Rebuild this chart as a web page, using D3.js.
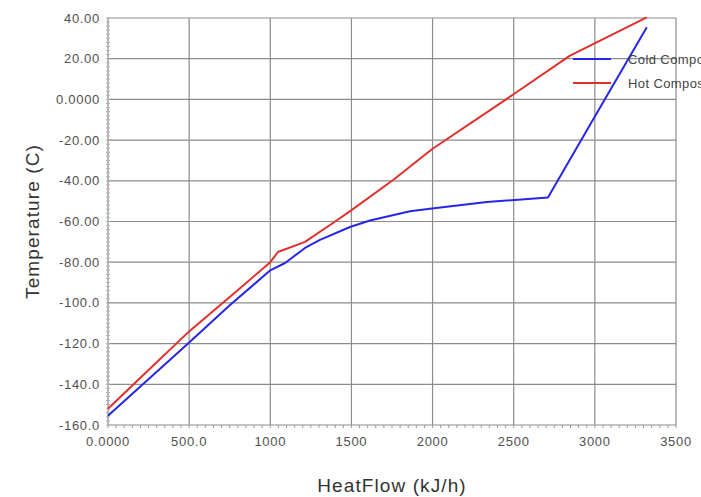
<!DOCTYPE html>
<html>
<head>
<meta charset="utf-8">
<script src="https://cdn.jsdelivr.net/npm/d3@7"></script>
<style>
  body { margin: 0; background: #fff; }
  svg { display: block; font-family: "Liberation Sans", Arial, sans-serif; }
</style>
</head>
<body>
<div id="chart"></div>
<script>
// composite curves (heat flow kJ/h, temperature C)
const coldFlow = [0, 500, 752, 1000, 1091, 1214, 1306, 1491, 1614, 1861, 1996, 2335, 2711, 3000, 3320];
const coldTemp = [-155.5, -119.5, -101, -84, -80.4, -73, -69, -62.7, -59.5, -55, -53.6, -50.4, -48.2, -8.4, 35.5];
const hotFlow = [0, 250, 500, 752, 1000, 1047, 1214, 1368, 1490, 1757, 1996, 2508, 2847, 3320];
const hotTemp = [-152, -133, -114, -97, -80, -75, -70, -61.7, -55, -39.6, -24.5, 3, 21.5, 40.3];

const seriesNames = ["Cold Composite", "Hot Composite"];
const seriesColors = ["#2626e6", "#e0302c"];

const xTicks = [0, 500, 1000, 1500, 2000, 2500, 3000, 3500];
const xTickLabels = ["0.0000", "500.0", "1000", "1500", "2000", "2500", "3000", "3500"];
const yTicks = [40, 20, 0, -20, -40, -60, -80, -100, -120, -140, -160];
const yTickLabels = ["40.00", "20.00", "0.0000", "-20.00", "-40.00", "-60.00", "-80.00", "-100.0", "-120.0", "-140.0", "-160.0"];

const width = 701;
const height = 497;
const margin = { top: 18, right: 25, bottom: 72, left: 108 };

const svg = d3.select("#chart")
  .append("svg")
  .attr("width", width)
  .attr("height", height);

const x = d3.scaleLinear().domain([0, 3500]).range([margin.left, width - margin.right]);
const y = d3.scaleLinear().domain([-160, 40]).range([height - margin.bottom, margin.top]);

// grid
svg.append("g")
  .selectAll("line")
  .data(xTicks)
  .enter()
  .append("line")
  .attr("x1", d => x(d)).attr("x2", d => x(d))
  .attr("y1", y(-160)).attr("y2", y(40))
  .style("stroke", "#8c8c8c").style("stroke-width", 1.2);

svg.append("g")
  .selectAll("line")
  .data(yTicks)
  .enter()
  .append("line")
  .attr("x1", x(0)).attr("x2", x(3500))
  .attr("y1", d => y(d)).attr("y2", d => y(d))
  .style("stroke", "#8c8c8c").style("stroke-width", 1.2);

// minor ticks
svg.append("g")
  .selectAll("line")
  .data(d3.range(0, 3501, 50))
  .enter()
  .append("line")
  .attr("x1", d => x(d)).attr("x2", d => x(d))
  .attr("y1", y(-160)).attr("y2", y(-160) + 3)
  .style("stroke", "#999");

svg.append("g")
  .selectAll("line")
  .data(d3.range(-160, 41, 2))
  .enter()
  .append("line")
  .attr("x1", x(0) - 2).attr("x2", x(0) + 2)
  .attr("y1", d => y(d)).attr("y2", d => y(d))
  .style("stroke", "#b0b0b0");

// tick labels
svg.append("g")
  .selectAll("text")
  .data(xTicks)
  .enter()
  .append("text")
  .attr("x", d => x(d))
  .attr("y", y(-160) + 21)
  .attr("text-anchor", "middle")
  .style("font-size", "13px")
  .style("letter-spacing", "0.7px")
  .style("fill", "#505050")
  .text((d, i) => xTickLabels[i]);

svg.append("g")
  .selectAll("text")
  .data(yTicks)
  .enter()
  .append("text")
  .attr("x", x(0) - 8)
  .attr("y", d => y(d) + 4.5)
  .attr("text-anchor", "end")
  .style("font-size", "13px")
  .style("letter-spacing", "0.7px")
  .style("fill", "#505050")
  .text((d, i) => yTickLabels[i]);

// axis titles
svg.append("text")
  .attr("x", (x(0) + x(3500)) / 2)
  .attr("y", 492)
  .attr("text-anchor", "middle")
  .style("font-size", "19px")
  .style("letter-spacing", "1.1px")
  .style("fill", "#333")
  .text("HeatFlow (kJ/h)");

svg.append("text")
  .attr("transform", `translate(39, ${(y(-160) + y(40)) / 2}) rotate(-90)`)
  .attr("text-anchor", "middle")
  .style("font-size", "19px")
  .style("letter-spacing", "1.1px")
  .style("fill", "#333")
  .text("Temperature (C)");

// curves
const line = d3.line().x(d => x(d[0])).y(d => y(d[1]));
const series = [
  d3.zip(coldFlow, coldTemp),
  d3.zip(hotFlow, hotTemp),
];

series.forEach((pts, i) => {
  svg.append("path")
    .datum(pts)
    .attr("d", line)
    .style("fill", "none")
    .style("stroke", seriesColors[i])
    .style("stroke-width", 2)
    .style("stroke-linejoin", "round");
});

// legend (runs past the right edge, as in the original)
const legend = svg.append("g").attr("transform", "translate(573, 59)");
seriesNames.forEach((name, i) => {
  legend.append("line")
    .attr("x1", 0).attr("x2", 38)
    .attr("y1", i * 24).attr("y2", i * 24)
    .style("stroke", seriesColors[i])
    .style("stroke-width", 2);
  legend.append("text")
    .attr("x", 55)
    .attr("y", i * 24 + 4.5)
    .style("font-size", "13px")
    .style("letter-spacing", "0.4px")
    .style("fill", "#444")
    .text(name);
});
</script>
</body>
</html>
